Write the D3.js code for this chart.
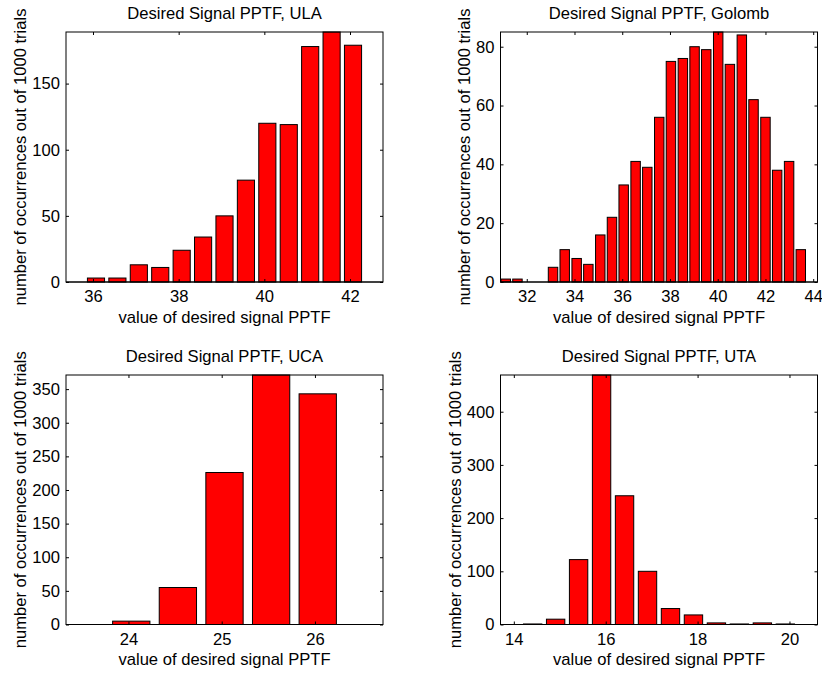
<!DOCTYPE html>
<html>
<head>
<meta charset="utf-8">
<script src="https://cdn.jsdelivr.net/npm/d3@7"></script>
<style>
  body { margin: 0; background: #fff; }
  svg { display: block; }
  text { font-family: "Liberation Sans", Arial, Helvetica, sans-serif; fill: #000; }
  .axis text { font-size: 16.6px; }
  .axis line, .axis path { stroke: #000; }
</style>
</head>
<body>
<svg width="822" height="674"></svg>
<script>
// bin centres and counts (1000 trials each)
var ulaCenters = [35.57, 36.07, 36.57, 37.07, 37.57, 38.07, 38.57, 39.07, 39.57, 40.07, 40.57, 41.07, 41.57, 42.07, 42.57];
var ulaCounts  = [0, 3, 3, 13, 11, 24, 34, 50, 77, 120, 119, 178, 189, 179, 0];
var ulaXTicks  = [36, 38, 40, 42];
var ulaYTicks  = [0, 50, 100, 150];

var golCenters = [31.12, 31.61, 32.11, 32.60, 33.10, 33.59, 34.09, 34.58, 35.08, 35.57, 36.06, 36.56, 37.05,
                  37.55, 38.04, 38.54, 39.03, 39.52, 40.02, 40.51, 41.01, 41.50, 42.00, 42.49, 42.99, 43.48];
var golCounts  = [1, 1, 0, 0, 5, 11, 8, 6, 16, 22, 33, 41, 39, 56, 75, 76, 80, 79, 85, 74, 84, 62, 56, 38, 41, 11];
var golXTicks  = [32, 34, 36, 38, 40, 42, 44];
var golYTicks  = [0, 20, 40, 60, 80];

var ucaCenters = [23.53, 24.03, 24.53, 25.03, 25.53, 26.03, 26.53];
var ucaCounts  = [0, 5, 55, 226, 371, 343, 0];
var ucaXTicks  = [24, 25, 26];
var ucaYTicks  = [0, 50, 100, 150, 200, 250, 300, 350];

var utaCenters = [13.91, 14.41, 14.91, 15.41, 15.91, 16.41, 16.91, 17.41, 17.91, 18.41, 18.91, 19.41, 19.91, 20.41];
var utaCounts  = [0, 1, 10, 122, 469, 242, 100, 30, 18, 3, 1, 3, 1, 0];
var utaXTicks  = [14, 16, 18, 20];
var utaYTicks  = [0, 100, 200, 300, 400];

var panels = [
  {title: "Desired Signal PPTF, ULA", c: ulaCenters, n: ulaCounts, xt: ulaXTicks, yt: ulaYTicks,
   xdom: [35.37, 42.77], ydom: [0, 189], bw: 0.5, left: 66, top: 32, w: 317, h: 250},
  {title: "Desired Signal PPTF, Golomb", c: golCenters, n: golCounts, xt: golXTicks, yt: golYTicks,
   xdom: [30.9, 44.18], ydom: [0, 85], bw: 0.4944, left: 500.5, top: 32, w: 317, h: 250},
  {title: "Desired Signal PPTF, UCA", c: ucaCenters, n: ucaCounts, xt: ucaXTicks, yt: ucaYTicks,
   xdom: [23.33, 26.73], ydom: [0, 371], bw: 0.5, left: 66, top: 375, w: 317, h: 249.5},
  {title: "Desired Signal PPTF, UTA", c: utaCenters, n: utaCounts, xt: utaXTicks, yt: utaYTicks,
   xdom: [13.71, 20.61], ydom: [0, 469], bw: 0.5, left: 500.5, top: 375, w: 317, h: 249.5}
];

var svg = d3.select("svg");
var fmt = d3.format("d");

panels.forEach(function(p) {
  var x = d3.scaleLinear().domain(p.xdom).range([0, p.w]);
  var y = d3.scaleLinear().domain(p.ydom).range([p.h, 0]);
  var g = svg.append("g").attr("transform", "translate(" + p.left + "," + p.top + ")");

  // bars (matlab bar width 0.8 of bin)
  var half = p.bw * 0.4;
  g.selectAll("rect.bar")
    .data(p.c.map(function(c, i) { return {c: c, n: p.n[i]}; }))
    .enter().append("rect")
    .attr("class", "bar")
    .attr("x", function(d) { return x(d.c - half); })
    .attr("width", function(d) { return x(d.c + half) - x(d.c - half); })
    .attr("y", function(d) { return y(d.n); })
    .attr("height", function(d) { return y(0) - y(d.n); })
    .attr("fill", "#ff0000")
    .attr("stroke", "#000")
    .attr("stroke-width", 1);

  // zero line under the empty bins
  g.append("line")
    .attr("x1", 0).attr("x2", p.w)
    .attr("y1", y(0)).attr("y2", y(0))
    .attr("stroke", "#000");

  // axes, ticks pointing in, mirrored on top and right
  g.append("g").attr("class", "axis")
    .attr("transform", "translate(0," + p.h + ")")
    .call(d3.axisBottom(x).tickValues(p.xt).tickFormat(fmt).tickSize(-3).tickSizeOuter(0).tickPadding(8.5));
  g.append("g").attr("class", "axis")
    .call(d3.axisTop(x).tickValues(p.xt).tickSize(-3).tickSizeOuter(0).tickFormat(""));
  var yax = g.append("g").attr("class", "axis")
    .call(d3.axisLeft(y).tickValues(p.yt).tickFormat(fmt).tickSize(-3).tickSizeOuter(0).tickPadding(6));
  g.append("g").attr("class", "axis")
    .attr("transform", "translate(" + p.w + ",0)")
    .call(d3.axisRight(y).tickValues(p.yt).tickSize(-3).tickSizeOuter(0).tickFormat(""));
  g.selectAll(".axis .domain").remove();

  g.append("rect")
    .attr("width", p.w).attr("height", p.h)
    .attr("fill", "none").attr("stroke", "#000").attr("stroke-width", 1);

  // labels
  var tw = d3.max(yax.selectAll("text").nodes(), function(t) { return t.getBBox().width; });
  g.append("text")
    .attr("x", p.w / 2).attr("y", -13)
    .attr("text-anchor", "middle").style("font-size", "16.6px")
    .text(p.title);
  g.append("text")
    .attr("x", p.w / 2).attr("y", p.h + 40.5)
    .attr("text-anchor", "middle").style("font-size", "16.6px")
    .text("value of desired signal PPTF");
  g.append("text")
    .attr("transform", "translate(" + (-tw - 12) + "," + (p.h / 2) + ") rotate(-90)")
    .attr("text-anchor", "middle").style("font-size", "16.6px")
    .text("number of occurrences out of 1000 trials");
});
</script>
</body>
</html>
